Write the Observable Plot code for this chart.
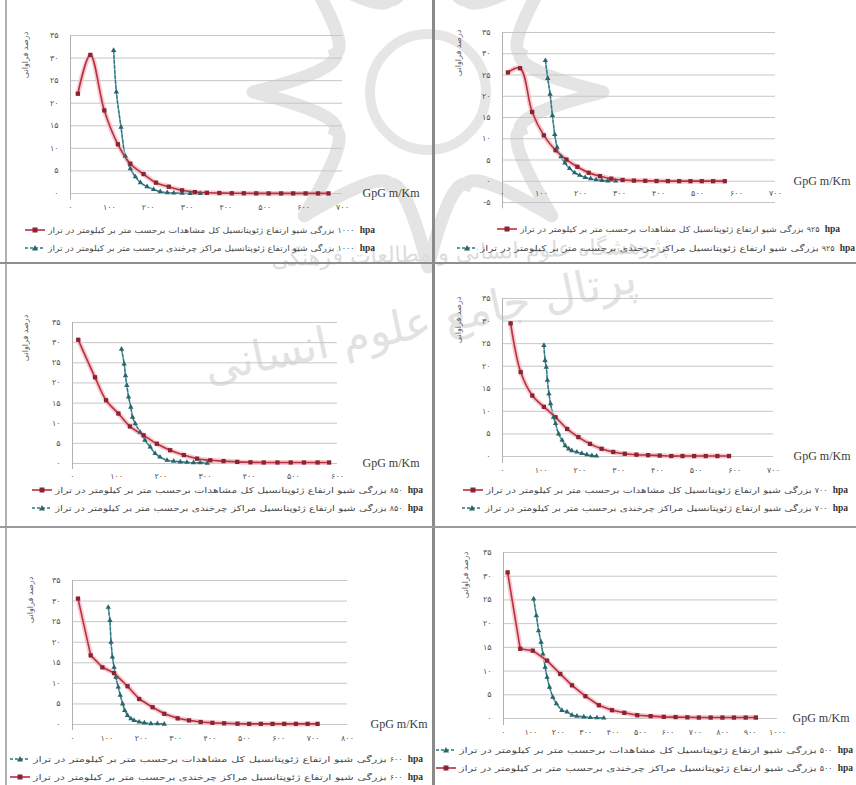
<!DOCTYPE html>
<html>
<head>
<meta charset="utf-8">
<script src="https://cdn.jsdelivr.net/npm/d3@7"></script>
<script src="https://cdn.jsdelivr.net/npm/@observablehq/plot@0.6"></script>
<style>
  body { margin: 0; background: #fff; }
  #page { position: relative; width: 856px; height: 785px; overflow: hidden; background: #fff; font-family: "DejaVu Sans", sans-serif; }
  .wm { position: absolute; white-space: nowrap; color: #e3e3e3; font-family: "DejaVu Sans", sans-serif; z-index: 0; }
  .logo { position: absolute; left: 0; top: 0; z-index: 0; }
  .chart { position: absolute; z-index: 1; }
  .leg { position: absolute; z-index: 2; white-space: nowrap; display: flex; align-items: center; height: 10px; }
  .legtxt { display: inline-block; transform-origin: 0 50%; font-size: 8px; color: #4a4a4a; font-family: "DejaVu Sans", sans-serif; direction: rtl; unicode-bidi: isolate; }
  .legnum { display: inline-block; position: absolute; font-size: 8px; color: #4a4a4a; font-family: "DejaVu Sans", sans-serif; direction: ltr; }
  .hpa { font-family: "Liberation Serif", serif; font-weight: bold; font-size: 9.5px; color: #333; }
  .ytitle { position: absolute; z-index: 2; white-space: nowrap; font-size: 8px; color: #555; transform: translate(-50%, -50%) rotate(-90deg); }
  .line { position: absolute; z-index: 3; }
</style>
</head>
<body>
<div id="page"></div>
<script>
// ---------------- data ----------------
const levels = ["۱۰۰۰", "۹۲۵", "۸۵۰", "۷۰۰", "۶۰۰", "۵۰۰"];
const yTicks = [0, 5, 10, 15, 20, 25, 30, 35];
const yTicksNeg = [-5, 0, 5, 10, 15, 20, 25, 30, 35];
const xTicks600 = [0, 100, 200, 300, 400, 500, 600];
const xTicks700 = [0, 100, 200, 300, 400, 500, 600, 700];
const xTicks800 = [0, 100, 200, 300, 400, 500, 600, 700, 800];
const xTicks1000 = [0, 100, 200, 300, 400, 500, 600, 700, 800, 900, 1000];

const yTitle = "درصد فراوانی";
const xTitle = "GpG m/Km";
const labelAll = "بزرگی شیو ارتفاع ژئوپتانسیل کل مشاهدات برحسب متر بر کیلومتر در تراز";
const labelCyc = "بزرگی شیو ارتفاع ژئوپتانسیل مراکز چرخندی برحسب متر بر کیلومتر در تراز";

// 1000 hPa
const allX1000 = [19, 51, 87, 122, 154, 188, 220, 253, 287, 320, 351, 383, 415, 446, 478, 510, 542, 573, 605, 637, 664];
const allY1000 = [22.1, 30.7, 18.4, 10.9, 6.6, 4.3, 2.4, 1.5, 0.7, 0.3, 0.15, 0.1, 0.05, 0.05, 0.03, 0.02, 0.02, 0.02, 0.02, 0.02, 0.02];
const cycX1000 = [111, 118, 130, 141, 154, 167, 180, 197, 214, 231, 249, 266, 287, 308, 334];
const cycY1000 = [31.7, 22.5, 14.7, 8.3, 5.5, 3.7, 2.4, 1.5, 0.9, 0.4, 0.2, 0.1, 0.05, 0.02, 0];
// 925 hPa
const allX925 = [14, 45, 76, 106, 136, 164, 192, 221, 250, 279, 308, 337, 366, 395, 424, 453, 482, 511, 540, 570];
const allY925 = [25.6, 26.6, 16.3, 10.8, 7.3, 5.1, 3.4, 2.0, 1.2, 0.6, 0.3, 0.15, 0.1, 0.05, 0.03, 0.02, 0.02, 0.02, 0.02, 0.02];
const cycX925 = [110, 116, 122, 128, 134, 140, 150, 160, 172, 185, 198, 212, 226, 240, 255, 270, 290];
const cycY925 = [28.4, 24.2, 20.5, 15.5, 11.0, 8.0, 5.8, 4.3, 3.0, 2.0, 1.4, 0.9, 0.6, 0.35, 0.2, 0.1, 0.05];
// 850 hPa
const allX850 = [13, 51, 76, 104, 130, 161, 191, 221, 252, 282, 312, 342, 373, 403, 433, 464, 494, 524, 555, 581];
const allY850 = [30.7, 21.4, 15.7, 12.4, 9.2, 7.0, 4.9, 3.3, 2.1, 1.2, 0.8, 0.6, 0.4, 0.3, 0.25, 0.25, 0.25, 0.25, 0.25, 0.25];
const cycX850 = [111, 117, 120, 123, 127, 132, 136, 142, 153, 164, 176, 187, 198, 214, 229, 244, 259, 274, 289, 305];
const cycY850 = [28.4, 24.7, 21.8, 19.4, 16.5, 14.0, 11.5, 9.9, 7.8, 5.8, 4.1, 2.5, 1.6, 0.8, 0.6, 0.4, 0.3, 0.2, 0.2, 0.1];
// 700 hPa
const allX700 = [21, 47, 77, 107, 137, 167, 196, 226, 256, 286, 316, 346, 376, 406, 436, 465, 495, 525, 555, 585];
const allY700 = [29.5, 18.7, 13.5, 11.0, 8.7, 6.1, 4.3, 2.8, 1.7, 1.0, 0.6, 0.4, 0.3, 0.2, 0.1, 0.1, 0.1, 0.1, 0.1, 0.1];
const cycX700 = [107, 110, 113, 116, 120, 124, 132, 137, 145, 154, 162, 171, 179, 192, 205, 218, 231, 243];
const cycY700 = [24.6, 21.3, 19.8, 16.9, 13.9, 11.7, 8.7, 7.3, 5.0, 3.6, 2.4, 1.7, 1.3, 1.0, 0.7, 0.4, 0.2, 0.1];
// 600 hPa
const allX600 = [16, 53, 87, 121, 160, 194, 233, 267, 306, 339, 373, 407, 441, 480, 514, 548, 582, 616, 650, 684, 713];
const allY600 = [30.6, 16.8, 13.9, 12.5, 9.3, 6.2, 4.2, 2.6, 1.5, 1.0, 0.6, 0.4, 0.3, 0.2, 0.15, 0.15, 0.15, 0.15, 0.15, 0.15, 0.15];
const cycX600 = [104, 109, 112, 116, 121, 126, 133, 139, 146, 152, 160, 170, 179, 194, 209, 228, 247, 267];
const cycY600 = [28.5, 25.3, 20.0, 16.4, 13.9, 11.5, 9.1, 7.1, 5.0, 3.4, 2.2, 1.4, 1.0, 0.6, 0.4, 0.2, 0.2, 0.1];
// 500 hPa
const allX500 = [15, 61, 107, 159, 207, 250, 299, 348, 396, 441, 488, 537, 585, 628, 671, 713, 756, 799, 841, 884, 921];
const allY500 = [30.8, 14.7, 14.3, 12.2, 9.4, 7.0, 4.7, 2.8, 1.75, 1.2, 0.7, 0.5, 0.35, 0.3, 0.25, 0.2, 0.2, 0.2, 0.2, 0.2, 0.2];
const cycX500 = [110, 120, 128, 137, 144, 152, 159, 168, 180, 193, 213, 232, 250, 268, 293, 317, 341, 366];
const cycY500 = [25.2, 21.7, 18.5, 16.1, 13.6, 10.8, 8.7, 6.6, 4.5, 3.1, 1.7, 1.4, 0.7, 0.5, 0.35, 0.2, 0.15, 0.1];

// ---------------- helpers ----------------
const fa = n => String(n).replace(/\d/g, d => "۰۱۲۳۴۵۶۷۸۹"[+d]);
const pts = (xs, ys) => xs.map((x, i) => ({x, y: ys[i]}));

const RED_GLOW = "#f3b9c2", RED = "#b7313f", RED_MK = "#8a2332";
const BLUE = "#5b9bd5", TEAL = "#2e7a70", TEAL_MK = "#2a6669";

const page = document.getElementById("page");

// faint emblem of the source watermark (decorative background)
(function logo() {
  const cx = 428, cy = 92, R = 175, r = 100, n = 8;
  let d = "";
  for (let i = 0; i < n; i++) {
    const a0 = (i / n) * 2 * Math.PI - Math.PI / 2;
    const a1 = ((i + 0.5) / n) * 2 * Math.PI - Math.PI / 2;
    const a2 = ((i + 1) / n) * 2 * Math.PI - Math.PI / 2;
    const p0 = [cx + R * Math.cos(a0), cy + R * Math.sin(a0)];
    const p1 = [cx + r * Math.cos(a1), cy + r * Math.sin(a1)];
    const p2 = [cx + R * Math.cos(a2), cy + R * Math.sin(a2)];
    const c0 = [cx + r * 0.9 * Math.cos(a0 + 0.25), cy + r * 0.9 * Math.sin(a0 + 0.25)];
    const c1 = [cx + r * 0.9 * Math.cos(a2 - 0.25), cy + r * 0.9 * Math.sin(a2 - 0.25)];
    d += `M${p0}Q${c0} ${p1}Q${c1} ${p2}`;
  }
  const ns = "http://www.w3.org/2000/svg";
  const svg = document.createElementNS(ns, "svg");
  svg.setAttribute("width", 856); svg.setAttribute("height", 785);
  svg.setAttribute("class", "logo");
  svg.innerHTML = `<path d="${d}" fill="none" stroke="#e4e4e4" stroke-width="13" stroke-linecap="round"/>
    <circle cx="${cx}" cy="${cy}" r="58" fill="none" stroke="#e6e6e6" stroke-width="10"/>`;
  page.appendChild(svg);
})();

function wm(text, left, top, size, rot, color) {
  const d = document.createElement("div");
  d.className = "wm";
  d.dir = "rtl";
  d.textContent = text;
  d.style.left = left + "px"; d.style.top = top + "px";
  d.style.fontSize = size + "px";
  d.style.transform = `translate(-50%,-50%) rotate(${rot}deg)`;
  if (color) d.style.color = color;
  page.appendChild(d);
}
wm("پژوهشگاه علوم انسانی و مطالعات فرهنگی", 470, 252, 22, -2, "#dcdcdc");
wm("پرتال جامع علوم انسانی", 420, 322, 44, -12, "#e2e2e2");

function line(l, t, w, h, c) {
  const d = document.createElement("div");
  d.className = "line";
  Object.assign(d.style, {left: l + "px", top: t + "px", width: w + "px", height: h + "px", background: c});
  page.appendChild(d);
}
line(5, 0, 2, 785, "#b0b0b0");
line(432, 0, 3, 785, "#8a8a8a");
line(0, 262, 856, 2, "#8e8e8e");
line(0, 526, 856, 2, "#9a9a9a");

// ---------------- panels ----------------
const panels = [
  {level: levels[0], all: pts(allX1000, allY1000), cyc: pts(cycX1000, cycY1000), xTicks: xTicks700, yT: yTicks, xMax: 700, yMin: 0,
   left: 0, top: 0, width: 430, height: 225, mt: 35, mb: 32, ml: 70, mr: 88, dyX: 14, gpgDx: 20, curve: "catmull-rom",
   title: [25, 55], legend: [["all", 25, 230, 375], ["cyc", 25, 248, 375]]},
  {level: levels[1], all: pts(allX925, allY925), cyc: pts(cycX925, cycY925), xTicks: xTicks700, yT: yTicksNeg, xMax: 700, yMin: -5,
   left: 430, top: 0, width: 426, height: 225, mt: 32, mb: 23, ml: 72, mr: 81, dyX: 12, gpgDx: 18, curve: "catmull-rom",
   title: [458, 53], legend: [["all", 497, 229, 840], ["cyc", 457, 248, 855]]},
  {level: levels[2], all: pts(allX850, allY850), cyc: pts(cycX850, cycY850), xTicks: xTicks600, yT: yTicks, xMax: 600, yMin: 0,
   left: 0, top: 263, width: 430, height: 225, mt: 59, mb: 25, ml: 72, mr: 93, dyX: 13, gpgDx: 25, curve: "catmull-rom",
   title: [25, 338], legend: [["all", 32, 490, 423], ["cyc", 32, 508, 423]]},
  {level: levels[3], all: pts(allX700, allY700), cyc: pts(cycX700, cycY700), xTicks: xTicks700, yT: yTicks, xMax: 700, yMin: 0,
   left: 430, top: 263, width: 426, height: 225, mt: 35, mb: 32, ml: 72, mr: 83, dyX: 14, gpgDx: 20, curve: "catmull-rom",
   title: [458, 320], legend: [["all", 463, 490, 848], ["cyc", 462, 508, 848]]},
  {level: levels[4], all: pts(allX600, allY600), cyc: pts(cycX600, cycY600), xTicks: xTicks800, yT: yTicks, xMax: 800, yMin: 0,
   left: 0, top: 527, width: 430, height: 225, mt: 53, mb: 28, ml: 72, mr: 83, dyX: 14, gpgDx: 23, curve: "linear",
   title: [30, 600], legend: [["cycAsAll", 10, 759, 423], ["allAsCyc", 10, 777, 423]]},
  {level: levels[5], all: pts(allX500, allY500), cyc: pts(cycX500, cycY500), xTicks: xTicks1000, yT: yTicks, xMax: 1000, yMin: 0,
   left: 430, top: 527, width: 426, height: 225, mt: 25, mb: 34, ml: 73, mr: 79, dyX: 14, gpgDx: 15, curve: "linear",
   title: [465, 575], legend: [["cycAsAll", 436, 750, 853], ["allAsCyc", 436, 768, 853]]}
];

function markerSvg(kind) {
  const red = kind === "red";
  const s = red
    ? `<line x1="0" y1="5" x2="20" y2="5" stroke="${RED}" stroke-width="1.6"/><rect x="7.5" y="2.5" width="5" height="5" fill="${RED_MK}"/>`
    : `<line x1="0" y1="5" x2="20" y2="5" stroke="${TEAL}" stroke-width="1.3" stroke-dasharray="3,2"/><path d="M10,2 L13,7.5 L7,7.5 Z" fill="${TEAL_MK}"/>`;
  return `<svg width="20" height="10" style="display:block">${s}</svg>`;
}

panels.forEach(p => {
  const chart = Plot.plot({
    width: p.width, height: p.height,
    marginTop: p.mt, marginBottom: p.mb, marginLeft: p.ml, marginRight: p.mr,
    x: {domain: [0, p.xMax], axis: null},
    y: {domain: [p.yMin, 35], axis: null},
    style: {background: "transparent", overflow: "visible", fontFamily: "DejaVu Sans, sans-serif"},
    marks: [
      Plot.ruleY(p.yT, {x1: 0, x2: p.xMax, stroke: "#c6c6c6", strokeWidth: 1}),
      Plot.ruleX([0], {y1: 35, y2: p.yMin - 1.5, stroke: "#b0b0b0", strokeWidth: 1}),
      Plot.text(p.yT, {x: 0, y: d => d, text: d => d < 0 ? "-" + fa(-d) : fa(d), dx: -12, textAnchor: "end", fontSize: 8, fill: "#555"}),
      Plot.text(p.xTicks, {x: d => d, y: 0, text: d => fa(d), dy: p.dyX, fontSize: 8, fill: "#555"}),
      Plot.text([xTitle], {x: p.xMax, y: 0, dx: p.gpgDx, textAnchor: "start", fontFamily: "Liberation Serif, serif", fontSize: 12, fill: "#3a3a3a"}),
      Plot.line(p.cyc, {x: "x", y: "y", stroke: BLUE, strokeWidth: 1.6, strokeOpacity: 0.8, curve: p.curve}),
      Plot.line(p.cyc, {x: "x", y: "y", stroke: TEAL, strokeWidth: 1.3, strokeDasharray: "3,2", curve: p.curve}),
      Plot.line(p.all, {x: "x", y: "y", stroke: RED_GLOW, strokeWidth: 5, strokeOpacity: 0.75, curve: p.curve}),
      Plot.line(p.all, {x: "x", y: "y", stroke: RED, strokeWidth: 1.6, curve: p.curve}),
      Plot.dot(p.all, {x: "x", y: "y", symbol: "square", r: 2.4, fill: RED_MK}),
      Plot.dot(p.cyc, {x: "x", y: "y", symbol: "triangle", r: 2, fill: TEAL_MK})
    ]
  });
  chart.classList.add("chart");
  chart.style.left = p.left + "px";
  chart.style.top = p.top + "px";
  page.appendChild(chart);

  const t = document.createElement("div");
  t.className = "ytitle";
  t.dir = "rtl";
  t.textContent = yTitle;
  t.style.left = p.title[0] + "px";
  t.style.top = p.title[1] + "px";
  page.appendChild(t);

  p.legend.forEach(([kind, mx, y, right]) => {
    const isRed = kind === "all" || kind === "allAsCyc";
    const text = (kind === "all" || kind === "cycAsAll") ? labelAll : labelCyc;
    // marker + Persian text
    const row = document.createElement("div");
    row.className = "leg";
    row.style.left = mx + "px";
    row.style.top = (y - 5) + "px";
    row.innerHTML = markerSvg(isRed ? "red" : "cyc");
    const txt = document.createElement("span");
    txt.className = "legtxt";
    txt.style.marginLeft = "3px";
    txt.dir = "rtl";
    txt.textContent = text;
    row.appendChild(txt);
    page.appendChild(row);
    // level + hpa at the right end
    const num = document.createElement("div");
    num.className = "leg";
    num.style.top = (y - 5) + "px";
    num.innerHTML = `<span style="font-size:8px;color:#4a4a4a;direction:ltr;unicode-bidi:isolate">${p.level}</span>&nbsp;<span class="hpa">hpa</span>`;
    page.appendChild(num);
    const nw = num.getBoundingClientRect().width;
    num.style.left = (right - nw) + "px";
    const target = right - nw - 3 - (mx + 23);
    const w = txt.getBoundingClientRect().width;
    if (w > 0) txt.style.transform = `scaleX(${target / w})`;
  });
});
</script>
</body>
</html>
